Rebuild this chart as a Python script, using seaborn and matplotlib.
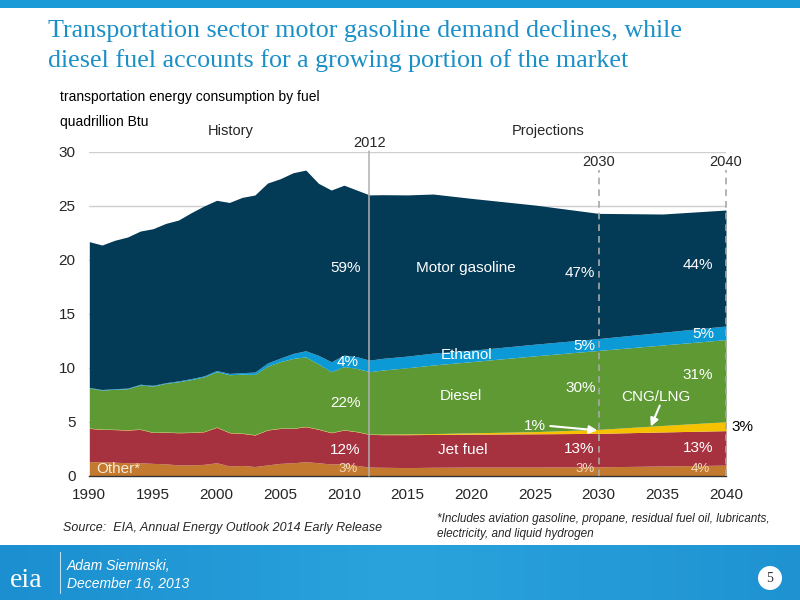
import numpy as np
import pandas as pd
import matplotlib
matplotlib.use("Agg")
import matplotlib.pyplot as plt
from matplotlib.patches import Rectangle, Ellipse
from matplotlib.colors import LinearSegmentedColormap
import seaborn as sns

# ---------------- data (quadrillion Btu) ----------------
years = [1990, 1991, 1992, 1993, 1994, 1995, 1996, 1997, 1998, 1999,
         2000, 2001, 2002, 2003, 2004, 2005, 2006, 2007, 2008, 2009,
         2010, 2011, 2012, 2013, 2015, 2017, 2020, 2025, 2030, 2035, 2040]

other = [1.30, 1.30, 1.25, 1.20, 1.20, 1.14, 1.10, 1.00, 1.00, 1.05,
         1.20, 0.90, 0.95, 0.85, 1.00, 1.14, 1.20, 1.30, 1.20, 1.08,
         1.14, 0.95, 0.80, 0.78, 0.75, 0.78, 0.80, 0.80, 0.82, 0.90, 0.98]
jet_fuel = [3.08, 2.99, 3.02, 3.03, 3.09, 2.86, 2.92, 2.98, 3.00, 3.02,
            3.28, 3.08, 2.97, 2.92, 3.23, 3.24, 3.18, 3.24, 3.09, 2.90,
            3.09, 3.12, 3.03, 3.02, 3.05, 3.04, 3.05, 3.08, 3.10, 3.15, 3.19]
cng_lng = [0.03, 0.03, 0.03, 0.03, 0.03, 0.03, 0.03, 0.03, 0.03, 0.03,
           0.03, 0.03, 0.03, 0.03, 0.03, 0.03, 0.03, 0.03, 0.03, 0.03,
           0.03, 0.03, 0.03, 0.05, 0.07, 0.08, 0.12, 0.20, 0.37, 0.60, 0.83]
diesel = [3.71, 3.61, 3.70, 3.79, 4.08, 4.27, 4.50, 4.69, 4.87, 5.05,
          5.12, 5.34, 5.45, 5.58, 5.89, 6.15, 6.45, 6.43, 6.02, 5.62,
          5.84, 5.84, 5.77, 5.93, 6.13, 6.35, 6.59, 7.02, 7.31, 7.45, 7.60]
ethanol = [0.05, 0.05, 0.06, 0.06, 0.07, 0.07, 0.06, 0.08, 0.09, 0.09,
           0.11, 0.12, 0.14, 0.22, 0.29, 0.33, 0.46, 0.57, 0.80, 0.92,
           1.07, 1.08, 1.07, 1.08, 1.08, 1.10, 1.05, 1.08, 1.10, 1.18, 1.26]
motor_gasoline = [13.50, 13.38, 13.74, 13.99, 14.18, 14.50, 14.75, 14.89, 15.36, 15.73,
                  15.76, 15.83, 16.23, 16.39, 16.66, 16.61, 16.73, 16.73, 15.93, 15.90,
                  15.73, 15.43, 15.30, 15.16, 14.92, 14.73, 14.07, 12.88, 11.59, 10.95, 10.74]

series_names = ["Other", "Jet fuel", "CNG/LNG", "Diesel", "Ethanol", "Motor gasoline"]
colors = ["#c47a2e", "#a6323f", "#f6c200", "#5e9934", "#0b9ad6", "#033a56"]

xticks = [1990, 1995, 2000, 2005, 2010, 2015, 2020, 2025, 2030, 2035, 2040]
yticks = [0, 5, 10, 15, 20, 25, 30]

df = pd.DataFrame({"year": years, "Other": other, "Jet fuel": jet_fuel,
                   "CNG/LNG": cng_lng, "Diesel": diesel, "Ethanol": ethanol,
                   "Motor gasoline": motor_gasoline})

# ---------------- styling ----------------
sns.set_theme(style="white")
plt.rcParams["font.family"] = ["Liberation Sans", "DejaVu Sans"]

fig = plt.figure(figsize=(8, 6), dpi=100)
fig.patch.set_facecolor("white")

# top blue strip
fig.add_artist(Rectangle((0, 1 - 8 / 600), 1, 8 / 600, transform=fig.transFigure,
                         facecolor="#1a9ad6", edgecolor="none", zorder=0))

# footer gradient band
fax = fig.add_axes([0, 0, 1, 55 / 600])
grad = np.linspace(0, 1, 256).reshape(1, -1)
cm = LinearSegmentedColormap.from_list("ft", ["#1b8fd0", "#2aa3dc", "#1f93d2"])
fax.imshow(grad, aspect="auto", cmap=cm, extent=[0, 1, 0, 1])
fax.set_xlim(0, 1)
fax.set_ylim(0, 1)
fax.axis("off")
fax.text(26 / 800, 0.36, "eia", color="white", fontsize=20, family="Liberation Serif",
         ha="center", va="center")
fax.plot([60 / 800, 60 / 800], [0.12, 0.88], color="white", lw=0.8, alpha=0.7)
fax.text(67 / 800, 0.62, "Adam Sieminski,", color="white", fontsize=10, style="italic",
         va="center")
fax.text(67 / 800, 0.30, "December 16, 2013", color="white", fontsize=10, style="italic",
         va="center")
fig.add_artist(Ellipse((770 / 800, 22 / 600), 24 / 800, 24 / 600, transform=fig.transFigure,
                       facecolor="white", edgecolor="none", zorder=5))
fig.text(770 / 800, 22 / 600, "5", color="#333333", fontsize=10, family="Liberation Serif",
         ha="center", va="center", zorder=6)

# title
fig.text(48 / 800, 1 - 31 / 600, "Transportation sector motor gasoline demand declines, while",
         color="#1a8fc8", fontsize=18.7, family="Liberation Serif", va="center")
fig.text(48 / 800, 1 - 61 / 600, "diesel fuel accounts for a growing portion of the market",
         color="#1a8fc8", fontsize=18.7, family="Liberation Serif", va="center")

fig.text(60 / 800, 1 - 97 / 600, "transportation energy consumption by fuel",
         fontsize=10, color="black", va="center")
fig.text(60 / 800, 1 - 122 / 600, "quadrillion Btu", fontsize=10, color="black", va="center")

# ---------------- chart ----------------
ax = fig.add_axes([89.3 / 800, 1 - 475.7 / 600, (726 - 89.3) / 800, (475.7 - 151.7) / 600])
ax.set_facecolor("white")
ax.stackplot(df["year"], [df[n] for n in series_names], colors=colors,
             linewidth=0, zorder=2)

ax.set_xlim(1990, 2040)
ax.set_ylim(0, 30)
ax.set_yticks(yticks)
ax.set_xticks(xticks)
ax.set_yticklabels([str(v) for v in yticks], fontsize=11)
ax.set_xticklabels([str(v) for v in xticks], fontsize=11)
ax.yaxis.grid(True, color="#cfcfcf", lw=1, zorder=0)
ax.set_axisbelow(True)
sns.despine(ax=ax, left=True, top=True, right=True)
ax.spines["bottom"].set_color("#333333")
ax.spines["bottom"].set_linewidth(1)
ax.tick_params(axis="x", direction="out", length=4, color="#333333", pad=5)
ax.tick_params(axis="y", length=0, pad=10)

# vertical markers
ax.plot([2012, 2012], [0, 30.1], color="#b0b0b0", lw=1.1, zorder=3, clip_on=False)
ax.plot([2030, 2030], [0, 28.3], color="#a8a8a8", lw=1.2, ls=(0, (4, 3)), zorder=3, clip_on=False)
ax.plot([2040, 2040], [0, 28.3], color="#a8a8a8", lw=1.2, ls=(0, (4, 3)), zorder=3, clip_on=False)
ax.text(2012, 30.2, "2012", ha="center", va="bottom", fontsize=10.5)
ax.text(2030, 28.4, "2030", ha="center", va="bottom", fontsize=10.5)
ax.text(2040, 28.4, "2040", ha="center", va="bottom", fontsize=10.5)
ax.text(2001.1, 31.3, "History", ha="center", va="bottom", fontsize=10.5)
ax.text(2026, 31.3, "Projections", ha="center", va="bottom", fontsize=10.5)

w = "white"
fs = 11
def t(x, y, s, c=w, size=fs, ha="center"):
    ax.text(x, y, s, color=c, fontsize=size, ha=ha, va="center", zorder=5)

t(2010.1, 19.2, "59%")
t(2019.6, 19.2, "Motor gasoline")
t(2028.5, 18.8, "47%")
t(2037.8, 19.5, "44%")
t(2010.3, 10.5, "4%")
t(2019.6, 11.2, "Ethanol")
t(2028.9, 12.0, "5%")
t(2038.2, 13.1, "5%")
t(2010.1, 6.7, "22%")
t(2019.2, 7.4, "Diesel")
t(2028.6, 8.1, "30%")
t(2037.8, 9.3, "31%")
t(2034.5, 7.25, "CNG/LNG")
t(2010.1, 2.35, "12%")
t(2019.3, 2.35, "Jet fuel")
t(2028.5, 2.45, "13%")
t(2037.8, 2.6, "13%")
t(1992.3, 0.6, "Other*", c="#f6ead8", size=11)
t(2010.3, 0.6, "3%", c="#f3dcc0", size=9.5)
t(2028.9, 0.6, "3%", c="#f3dcc0", size=9.5)
t(2038.0, 0.6, "4%", c="#f3dcc0", size=9.5)
t(2040.4, 4.5, "3%", c="black", size=11, ha="left")

arrow = dict(arrowstyle="-|>", color="white", lw=1.5, mutation_scale=12,
             shrinkA=0, shrinkB=0)
ax.annotate("", xy=(2029.9, 4.2), xytext=(2026.2, 4.6), arrowprops=arrow, zorder=6)
t(2025.0, 4.6, "1%")
ax.annotate("", xy=(2034.1, 4.55), xytext=(2034.8, 6.5), arrowprops=arrow, zorder=6)

# source / footnote
fig.text(63 / 800, 1 - 528 / 600, "Source:  EIA, Annual Energy Outlook 2014 Early Release",
         fontsize=9, style="italic", va="center")
fig.text(437 / 800, 1 - 519 / 600,
         "*Includes aviation gasoline, propane, residual fuel oil, lubricants,",
         fontsize=8.5, style="italic", va="center")
fig.text(437 / 800, 1 - 534 / 600, "electricity, and liquid hydrogen",
         fontsize=8.5, style="italic", va="center")

fig.savefig("out.png", dpi=100)
